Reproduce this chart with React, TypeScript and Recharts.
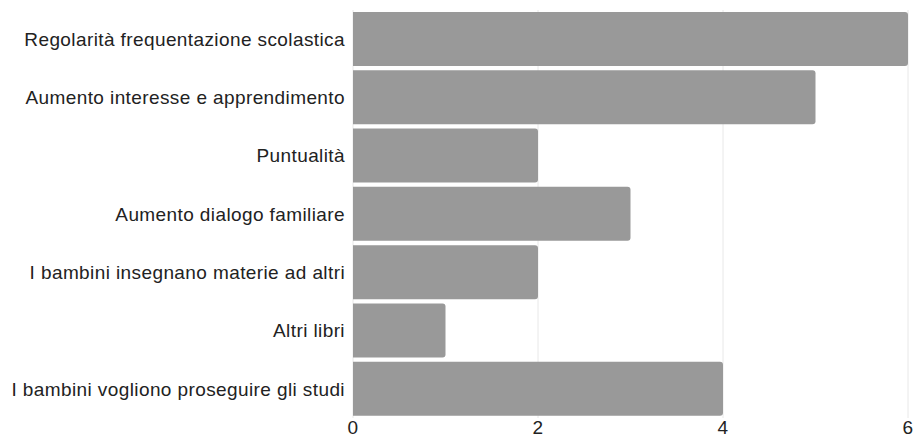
import React from "react";
import { BarChart, Bar, XAxis, YAxis, CartesianGrid } from "recharts";

// Categories and counts for each outcome
const categories: string[] = [
  "Regolarità frequentazione scolastica",
  "Aumento interesse e apprendimento",
  "Puntualità",
  "Aumento dialogo familiare",
  "I bambini insegnano materie ad altri",
  "Altri libri",
  "I bambini vogliono proseguire gli studi",
];
const counts: number[] = [6, 5, 2, 3, 2, 1, 4];
const xTicks: number[] = [0, 2, 4, 6];

const data = categories.map((name, i) => ({ name, value: counts[i] }));

const font = "'Liberation Sans', Arial, sans-serif";
const tickStyle = { fill: "#222", fontSize: 19, fontFamily: font, letterSpacing: 0.4 };

export default function App() {
  return (
    <div style={{ position: "absolute", left: 0, top: 0, width: 915, height: 438 }}>
      <BarChart
        width={915}
        height={438}
        data={data}
        layout="vertical"
        margin={{ top: 10, right: 7, bottom: 0, left: 0 }}
        style={{ fontFamily: font }}
      >
        <CartesianGrid horizontal={false} stroke="#e8e8e8" strokeWidth={1} />
        <XAxis
          type="number"
          domain={[0, 6]}
          ticks={xTicks}
          axisLine={false}
          tickLine={false}
          tickSize={2}
          tickMargin={1}
          height={20}
          tick={tickStyle}
        />
        <YAxis
          type="category"
          dataKey="name"
          width={353}
          axisLine={false}
          tickLine={false}
          tickSize={6}
          tickMargin={2}
          interval={0}
          tick={tickStyle}
        />
        <Bar
          dataKey="value"
          fill="#999999"
          barSize={54}
          radius={[0, 3, 3, 0]}
          isAnimationActive={false}
        />
      </BarChart>
    </div>
  );
}
